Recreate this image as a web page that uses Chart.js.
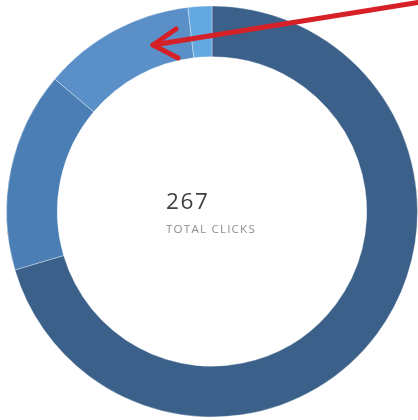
<!DOCTYPE html>
<html>
<head>
<meta charset="utf-8">
<script src="https://cdn.jsdelivr.net/npm/chart.js@4.4.1/dist/chart.umd.min.js"></script>
<style>
  html, body { margin: 0; padding: 0; background: #ffffff; }
  #wrap { position: relative; width: 418px; height: 420px; overflow: hidden; }
  #c { position: absolute; left: 0; top: 0; }
  .center { position: absolute; left: 166px; font-family: "Open Sans", Lato, sans-serif; white-space: nowrap; }
  #total { top: 186px; font-size: 22.5px; color: #3f3f3f; line-height: 30px; letter-spacing: 1.6px; }
  #label { top: 221px; font-size: 11.6px; color: #8e8e8e; line-height: 16px; letter-spacing: 1.2px; }
</style>
</head>
<body>
<div id="wrap">
  <canvas id="c" width="418" height="420"></canvas>
  <div class="center" id="total"></div>
  <div class="center" id="label">TOTAL CLICKS</div>
</div>
<script>
const categories = ["Source A", "Source B", "Source C", "Source D"];
const clicks = [188, 42, 32, 5];
const segmentColors = ["#3b6089", "#4a7eb4", "#5a90c7", "#64a8e2"];
const centerLabel = "TOTAL CLICKS";

document.getElementById("total").textContent = clicks.reduce((a, b) => a + b, 0);
document.getElementById("label").textContent = centerLabel;

const arrowPlugin = {
  id: "arrow",
  afterDraw(chart) {
    const ctx = chart.ctx;
    const meta = chart.getDatasetMeta(0);
    const arc = meta.data[0];
    const cx = arc.x, cy = arc.y;
    // annotation arrow pointing at the upper-left ring
    const tipX = cx - 59, tipY = cy - 166.5;
    ctx.save();
    ctx.strokeStyle = "#d52027";
    ctx.lineWidth = 5;
    ctx.lineCap = "round";
    ctx.lineJoin = "round";
    ctx.beginPath();
    ctx.moveTo(cx + 212, cy - 210);
    ctx.lineTo(tipX, tipY);
    ctx.stroke();
    ctx.beginPath();
    ctx.moveTo(tipX + 23, tipY - 16);
    ctx.lineTo(tipX, tipY);
    ctx.lineTo(tipX + 25, tipY + 13);
    ctx.stroke();
    ctx.restore();
  }
};

new Chart(document.getElementById("c"), {
  type: "doughnut",
  data: {
    labels: categories,
    datasets: [{
      data: clicks,
      backgroundColor: segmentColors,
      borderColor: "rgba(255,255,255,0.35)",
      borderWidth: 1,
      hoverOffset: 0
    }]
  },
  options: {
    responsive: false,
    animation: false,
    cutout: "75.3%",
    layout: { padding: { left: 6, right: 0, top: 5, bottom: 2 } },
    plugins: {
      legend: { display: false },
      tooltip: { enabled: false }
    }
  },
  plugins: [arrowPlugin]
});
</script>
</body>
</html>
